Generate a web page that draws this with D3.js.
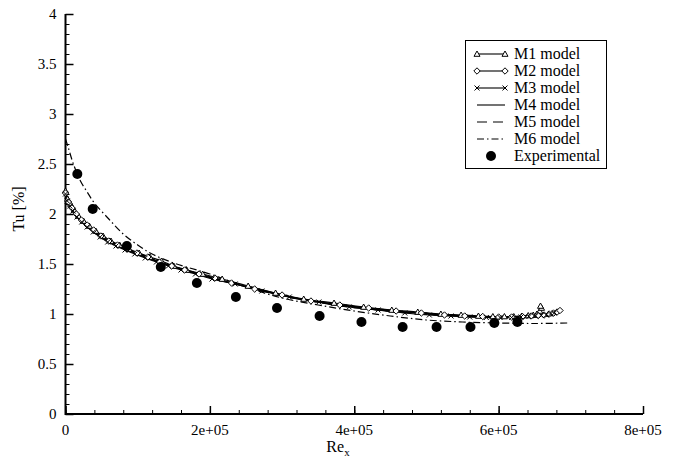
<!DOCTYPE html>
<html>
<head>
<meta charset="utf-8">
<script src="https://cdn.jsdelivr.net/npm/d3@7"></script>
<style>
  html, body { margin: 0; padding: 0; background: #fff; }
  svg { display: block; }
  text { font-family: "Liberation Serif", "Times New Roman", serif; fill: #000; }
</style>
</head>
<body>
<svg id="chart" width="676" height="462"></svg>
<script>
// Turbulence intensity decay along the plate, six models vs. experiment
const xTickValues = [0, 200000, 400000, 600000, 800000];
const xTickLabels = ["0", "2e+05", "4e+05", "6e+05", "8e+05"];
const yTickValues = [0, 0.5, 1, 1.5, 2, 2.5, 3, 3.5, 4];
const yTickLabels = ["0", "0.5", "1", "1.5", "2", "2.5", "3", "3.5", "4"];

const seriesNames = ["M1 model", "M2 model", "M3 model", "M4 model", "M5 model", "M6 model", "Experimental"];

// Re_x stations of the computations
const gridA = [0, 3000, 7000, 12000, 18000, 25000, 33000, 42000, 52000, 63000, 75000, 88000, 102000, 117000,
  133000, 150000, 168000, 190000, 217000, 253000, 291000, 330000, 372000, 413000, 452000, 488000, 520000,
  548000, 572000, 592000, 608000, 621000, 632000, 641000, 648000, 653000, 657000, 659500, 658000];
const gridB = [0, 4000, 9000, 15000, 22000, 30000, 39000, 49000, 60000, 72000, 85000, 99000, 114000, 130000,
  147000, 165000, 185000, 207000, 230000, 262000, 300000, 340000, 380000, 420000, 458000, 493000, 525000,
  553000, 578000, 600000, 618000, 633000, 645000, 655000, 663000, 670000, 676000, 681000, 685000];
const gridC = [0, 2500, 6000, 10500, 16000, 22500, 30000, 38500, 48000, 58500, 70000, 82500, 96000, 110500,
  126000, 142500, 160000, 180000, 203000, 235000, 272000, 310000, 351000, 393000, 433000, 470000, 504000,
  534000, 560000, 583000, 602000, 618000, 631000, 642000, 651000, 659000, 666000, 672000, 677000];
const gridM6 = [0, 4000, 10000, 20000, 30000, 40000, 60000, 80000, 100000, 120000, 150000, 200000, 250000,
  300000, 350000, 400000, 450000, 500000, 550000, 600000, 650000, 695000];

// Tu [%] of each model
const tuM1 = [2.23, 2.15, 2.10, 2.04, 1.98, 1.93, 1.88, 1.83, 1.78, 1.73, 1.69, 1.65, 1.61, 1.57,
  1.53, 1.48, 1.44, 1.40, 1.35, 1.28, 1.21, 1.15, 1.11, 1.07, 1.04, 1.02, 1.00,
  0.99, 0.98, 0.975, 0.975, 0.975, 0.98, 0.985, 0.99, 1.00, 1.03, 1.06, 1.08];
const tuM2 = [2.21, 2.12, 2.06, 2.00, 1.94, 1.89, 1.84, 1.78, 1.73, 1.69, 1.65, 1.61, 1.57, 1.52,
  1.48, 1.44, 1.40, 1.36, 1.31, 1.25, 1.19, 1.13, 1.09, 1.06, 1.03, 1.01, 0.99,
  0.98, 0.975, 0.97, 0.97, 0.975, 0.98, 0.985, 0.99, 1.00, 1.01, 1.02, 1.035];
const tuM3 = [2.20, 2.13, 2.08, 2.03, 1.97, 1.92, 1.87, 1.82, 1.77, 1.72, 1.68, 1.64, 1.60, 1.56,
  1.52, 1.48, 1.44, 1.40, 1.35, 1.30, 1.23, 1.17, 1.12, 1.07, 1.04, 1.01, 0.99,
  0.98, 0.97, 0.965, 0.965, 0.965, 0.97, 0.975, 0.98, 0.985, 0.99, 1.00, 1.01];
const tuM4 = [2.22, 2.15, 2.10, 2.04, 1.99, 1.93, 1.88, 1.83, 1.78, 1.73, 1.69, 1.65, 1.61, 1.57,
  1.53, 1.49, 1.45, 1.41, 1.36, 1.30, 1.24, 1.17, 1.12, 1.08, 1.04, 1.02, 1.00,
  0.985, 0.975, 0.97, 0.97, 0.97, 0.975, 0.98, 0.985, 0.99, 0.995, 1.00, 1.005];
const tuM5 = [2.20, 2.12, 2.06, 2.00, 1.94, 1.89, 1.83, 1.78, 1.73, 1.68, 1.64, 1.60, 1.56, 1.52,
  1.48, 1.44, 1.40, 1.35, 1.31, 1.25, 1.18, 1.13, 1.08, 1.05, 1.02, 1.00, 0.985,
  0.975, 0.97, 0.965, 0.965, 0.965, 0.97, 0.97, 0.975, 0.98, 0.985, 0.99, 0.995];
const tuM6 = [2.75, 2.66, 2.52, 2.34, 2.22, 2.11, 1.95, 1.80, 1.69, 1.60, 1.51, 1.40, 1.27,
  1.16, 1.09, 1.03, 0.98, 0.94, 0.92, 0.91, 0.905, 0.91];

// Measurements
const expRe = [16400, 37700, 85000, 132000, 182000, 236000, 293000, 352000, 410000, 467000, 514000, 561000, 594000, 626000];
const expTu = [2.40, 2.05, 1.68, 1.47, 1.31, 1.17, 1.06, 0.98, 0.92, 0.87, 0.87, 0.87, 0.91, 0.92];

const svg = d3.select("#chart");
const x = d3.scaleLinear().domain([0, 800000]).range([65.5, 643]);
const y = d3.scaleLinear().domain([0, 4]).range([414, 14]);

const zip = (xs, ys) => xs.map((v, i) => [v, ys[i]]);
const line = d3.line().x(d => x(d[0])).y(d => y(d[1])).curve(d3.curveCatmullRom.alpha(0.5));

// Axes with inward ticks
const axisG = svg.append("g");
const xMinor = d3.range(0, 800001, 40000);
const yMinor = d3.range(0, 4.0001, 0.1);
const xAxis = d3.axisTop(x).tickValues(xTickValues).tickSize(8).tickFormat(() => "");
const xAxisMinor = d3.axisTop(x).tickValues(xMinor).tickSize(4).tickFormat(() => "");
const yAxis = d3.axisRight(y).tickValues(yTickValues).tickSize(8).tickFormat(() => "");
const yAxisMinor = d3.axisRight(y).tickValues(yMinor).tickSize(4).tickFormat(() => "");

function styleAxis(g) {
  g.select(".domain").remove();
  g.selectAll(".tick line").attr("stroke", "#000").attr("stroke-width", 1);
}
axisG.append("g").attr("transform", `translate(0,${y(0)})`).call(xAxisMinor).call(styleAxis);
axisG.append("g").attr("transform", `translate(0,${y(0)})`).call(xAxis).call(styleAxis)
  .selectAll(".tick line").attr("stroke-width", 1.5);
axisG.append("g").attr("transform", `translate(${x(0)},0)`).call(yAxisMinor).call(styleAxis);
axisG.append("g").attr("transform", `translate(${x(0)},0)`).call(yAxis).call(styleAxis)
  .selectAll(".tick line").attr("stroke-width", 1.5);
axisG.append("path")
  .attr("d", `M${x(0)},${y(4)}V${y(0)}H${x(800000)}`)
  .attr("fill", "none").attr("stroke", "#000").attr("stroke-width", 2);

// Tick labels
svg.append("g").selectAll("text").data(xTickValues).join("text")
  .attr("x", d => x(d)).attr("y", y(0) + 21)
  .attr("text-anchor", "middle").attr("font-size", 15)
  .text((d, i) => xTickLabels[i]);
svg.append("g").selectAll("text").data(yTickValues).join("text")
  .attr("x", x(0) - 9).attr("y", d => y(d) + 5)
  .attr("text-anchor", "end").attr("font-size", 15)
  .text((d, i) => yTickLabels[i]);

// Axis titles
const xt = svg.append("text").attr("x", 338).attr("y", 452).attr("text-anchor", "middle").attr("font-size", 16);
xt.append("tspan").text("Re");
xt.append("tspan").attr("font-size", 11).attr("dy", 4).text("x");
svg.append("text").attr("transform", "translate(24,209) rotate(-90)")
  .attr("text-anchor", "middle").attr("font-size", 16).text("Tu [%]");

// Marker shapes
const triPath = "M0,-3L3,2.3L-3,2.3Z";
const diaPath = "M0,-3.2L3.2,0L0,3.2L-3.2,0Z";
const crossPath = "M-2.5,-2.5L2.5,2.5M-2.5,2.5L2.5,-2.5";

const models = [
  { name: seriesNames[0], pts: zip(gridA, tuM1), dash: null, marker: triPath, fill: "#fff" },
  { name: seriesNames[1], pts: zip(gridB, tuM2), dash: null, marker: diaPath, fill: "#fff" },
  { name: seriesNames[2], pts: zip(gridC, tuM3), dash: null, marker: crossPath, fill: "none" },
  { name: seriesNames[3], pts: zip(gridC, tuM4), dash: null, marker: null },
  { name: seriesNames[4], pts: zip(gridB, tuM5), dash: "10,6", marker: null },
  { name: seriesNames[5], pts: zip(gridM6, tuM6), dash: "7,3,1.5,3", marker: null }
];

const plot = svg.append("g");
models.forEach(m => {
  plot.append("path").datum(m.pts).attr("d", line)
    .attr("fill", "none").attr("stroke", "#000").attr("stroke-width", m.name === "M4 model" ? 1.6 : 1.2)
    .attr("stroke-dasharray", m.dash);
});
models.forEach(m => {
  if (!m.marker) return;
  plot.append("g").selectAll("path").data(m.pts).join("path")
    .attr("transform", d => `translate(${x(d[0])},${y(d[1])})`)
    .attr("d", m.marker).attr("fill", m.fill).attr("stroke", "#000").attr("stroke-width", 1);
});
plot.append("g").selectAll("circle").data(zip(expRe, expTu)).join("circle")
  .attr("cx", d => x(d[0])).attr("cy", d => y(d[1])).attr("r", 5).attr("fill", "#000");

// Legend
const lg = svg.append("g");
lg.append("rect").attr("x", 465.5).attr("y", 40.5).attr("width", 141).attr("height", 128)
  .attr("fill", "#fff").attr("stroke", "#000").attr("stroke-width", 1);
const rowY = i => 54 + i * 17;
models.forEach((m, i) => {
  const yy = rowY(i);
  lg.append("line").attr("x1", 477).attr("x2", 505).attr("y1", yy).attr("y2", yy)
    .attr("stroke", "#000").attr("stroke-width", 1.1).attr("stroke-dasharray", m.dash);
  if (m.marker) {
    [477, 505].forEach(xx => {
      lg.append("path").attr("transform", `translate(${xx},${yy})`).attr("d", m.marker)
        .attr("fill", m.fill).attr("stroke", "#000").attr("stroke-width", 1);
    });
  }
  lg.append("text").attr("x", 514).attr("y", yy + 5).attr("font-size", 16).text(m.name);
});
lg.append("circle").attr("cx", 491).attr("cy", rowY(6)).attr("r", 5).attr("fill", "#000");
lg.append("text").attr("x", 514).attr("y", rowY(6) + 5).attr("font-size", 16).text(seriesNames[6]);
</script>
</body>
</html>
